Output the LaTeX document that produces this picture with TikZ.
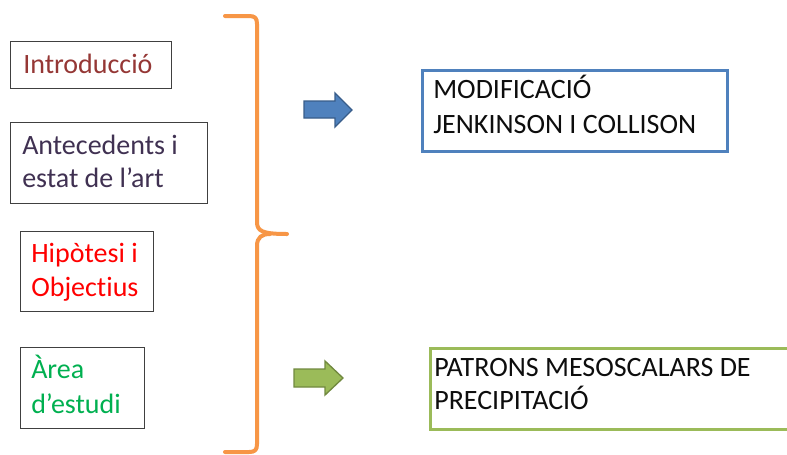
\documentclass[tikz,border=0pt]{standalone}
\usepackage{fontspec}
\setmainfont{Carlito}[Ligatures=NoCommon]
\definecolor{introred}{HTML}{953735}
\definecolor{antepurple}{HTML}{403152}
\definecolor{hipred}{HTML}{FF0000}
\definecolor{areagreen}{HTML}{00B050}
\definecolor{boxgray}{HTML}{404040}
\definecolor{bluebd}{HTML}{4F81BD}
\definecolor{bluedark}{HTML}{385D8A}
\definecolor{greenbd}{HTML}{9BBB59}
\definecolor{greendark}{HTML}{71893F}
\definecolor{braceorange}{HTML}{F79646}
\definecolor{textdark}{HTML}{0D0D0D}
\tikzset{
  grbox/.style={draw=boxgray, line width=1.1pt, inner sep=0pt, anchor=north west},
  bluebox/.style={draw=bluebd, line width=2.2pt, inner sep=0pt, anchor=north west},
  greenbox/.style={draw=greenbd, line width=2.6pt, inner sep=0pt, anchor=north west},
  txt/.style={anchor=base west, inner sep=0pt, font=\fontsize{21}{26}\selectfont},
  bracestyle/.style={draw=braceorange, line width=3pt, line cap=round, line join=round},
}
\begin{document}
\begin{tikzpicture}[x=0.75pt, y=-0.75pt]
\useasboundingbox (0,0) rectangle (787,454);
\fill[white] (0,0) rectangle (787,454);
% left boxes
\node[grbox, minimum width=161*0.75pt, minimum height=47*0.75pt] (intro) at (10,41) {};
\node[txt, text=introred] (introT) at (23,73) {Introducció};
\node[grbox, minimum width=197*0.75pt, minimum height=81*0.75pt] (ante) at (10,122) {};
\node[txt, text=antepurple] (anteT1) at (22,154) {Antecedents i};
\node[txt, text=antepurple] (anteT2) at (22,187) {estat de l’art};
\node[grbox, minimum width=133*0.75pt, minimum height=80*0.75pt] (hip) at (20,231) {};
\node[txt, text=hipred] (hipT1) at (31,262) {Hipòtesi i};
\node[txt, text=hipred] (hipT2) at (31,296) {Objectius};
\node[grbox, minimum width=124*0.75pt, minimum height=81*0.75pt] (area) at (20,347) {};
\node[txt, text=areagreen] (areaT1) at (31,378) {Àrea};
\node[txt, text=areagreen] (areaT2) at (31,413) {d’estudi};
% brace
\coordinate (bt) at (225,16);
\coordinate (bm) at (287,234);
\coordinate (bb) at (225,452);
\draw[bracestyle] (bt) -- (249,16) .. controls (255,16) and (257,18) .. (257,24)
  -- (257,222) .. controls (257,231) and (262,234) .. (bm);
\draw[bracestyle] (bb) -- (249,452) .. controls (255,452) and (257,450) .. (257,444)
  -- (257,246) .. controls (257,237) and (262,234) .. (270,234);
% arrows
\draw[draw=bluedark, fill=bluebd, line width=1pt, line join=miter]
  (304,101) -- (335,101) -- (335,93) -- (352,110) -- (335,127) -- (335,118) -- (304,118) -- cycle;
\draw[draw=greendark, fill=greenbd, line width=1pt, line join=miter]
  (294,369) -- (325,369) -- (325,361) -- (343,378) -- (325,395) -- (325,387) -- (294,387) -- cycle;
% right boxes
\node[bluebox, minimum width=305*0.75pt, minimum height=81*0.75pt] (mod) at (421,69) {};
\node[txt, text=textdark] (modT1) at (433,98) {MODIFICACIÓ};
\node[txt, text=textdark] (modT2) at (433,133) {JENKINSON I COLLISON};
\node[greenbox, minimum width=380*0.75pt, minimum height=81*0.75pt] (pat) at (429,347) {};
\node[txt, text=textdark] (patT1) at (434,376) {PATRONS MESOSCALARS DE};
\node[txt, text=textdark] (patT2) at (434,409) {PRECIPITACIÓ};
\end{tikzpicture}
\end{document}
